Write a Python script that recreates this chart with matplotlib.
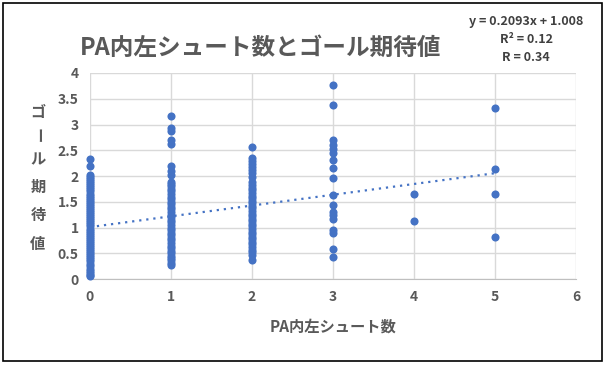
import matplotlib.pyplot as plt
from matplotlib.patches import Rectangle

plt.rcParams['font.family'] = ['Noto Sans CJK JP', 'DejaVu Sans']

# goal expectation per number of left-in-box shots
shots_0 = [0.05, 0.08, 0.12, 0.16, 0.2, 0.25, 0.3, 0.34, 0.38, 0.42, 0.46, 0.5, 0.54,
           0.58, 0.62, 0.66, 0.7, 0.74, 0.78, 0.82, 0.86, 0.9, 0.94, 0.98, 1.02, 1.06,
           1.1, 1.14, 1.18, 1.22, 1.26, 1.3, 1.34, 1.38, 1.42, 1.46, 1.5, 1.54, 1.58,
           1.62, 1.66, 1.7, 1.74, 1.78, 1.82, 1.86, 1.9, 1.94, 1.98, 2.02, 2.19, 2.33]
shots_1 = [0.27, 0.31, 0.36, 0.4, 0.45, 0.5, 0.55, 0.6, 0.65, 0.7, 0.75, 0.8, 0.85,
           0.9, 0.95, 1.0, 1.05, 1.1, 1.15, 1.2, 1.25, 1.3, 1.35, 1.4, 1.45, 1.5, 1.55,
           1.6, 1.65, 1.7, 1.75, 1.8, 1.85, 1.89, 2.02, 2.1, 2.19, 2.63, 2.7, 2.87,
           2.93, 3.17]
shots_2 = [0.36, 0.47, 0.52, 0.57, 0.62, 0.67, 0.72, 0.77, 0.82, 0.87, 0.92, 0.97,
           1.02, 1.07, 1.12, 1.17, 1.22, 1.27, 1.32, 1.37, 1.42, 1.47, 1.52, 1.57,
           1.62, 1.67, 1.72, 1.77, 1.82, 1.89, 1.99, 2.05, 2.11, 2.17, 2.23, 2.29,
           2.34, 2.57]
shots_3 = [0.43, 0.58, 0.89, 0.96, 1.16, 1.24, 1.31, 1.44, 1.64, 1.97, 2.16, 2.31,
           2.45, 2.52, 2.6, 2.7, 3.37, 3.77]
shots_4 = [1.13, 1.66]
shots_5 = [0.82, 1.66, 2.14, 3.33]

slope = 0.2093
intercept = 1.008
r2 = 0.12
r = 0.34

groups = [shots_0, shots_1, shots_2, shots_3, shots_4, shots_5]
xs = []
ys = []
for i, g in enumerate(groups):
    xs += [i] * len(g)
    ys += g

gray = '#595959'
fig = plt.figure(figsize=(6.07, 3.65), dpi=100)
ax = fig.add_axes([0.148, 0.2356, 0.801, 0.5644])

ax.scatter(xs, ys, s=34, color='#4472C4', zorder=3, linewidths=0, clip_on=False)
ax.plot([0, 5], [intercept, intercept + slope * 5], linestyle=(0, (1, 2.2)),
        color='#4472C4', linewidth=1.6, zorder=2)

ax.set_xlim(0, 6)
ax.set_ylim(0, 4)
ax.set_xticks(range(0, 7))
ax.set_yticks([0, 0.5, 1, 1.5, 2, 2.5, 3, 3.5, 4])
ax.set_yticklabels(['0', '0.5', '1', '1.5', '2', '2.5', '3', '3.5', '4'])
ax.grid(True, color='#D9D9D9', linewidth=1)
ax.set_axisbelow(True)
for side in ['top', 'right', 'left']:
    ax.spines[side].set_visible(False)
ax.spines['bottom'].set_color('#BFBFBF')
ax.tick_params(length=0, labelsize=10, labelcolor=gray, pad=8)
for lbl in ax.get_xticklabels() + ax.get_yticklabels():
    lbl.set_fontweight('bold')

fig.text(0.43, 0.87, 'PA内左シュート数とゴール期待値', fontsize=17, fontweight='bold',
         color=gray, ha='center', va='center')
fig.text(0.549, 0.105, 'PA内左シュート数', fontsize=11, fontweight='bold',
         color=gray, ha='center', va='center')

ylab = 'ゴール期待値'
ypos = [112, 136, 159, 187, 215, 244]
for ch, yp in zip(ylab, ypos):
    fig.text(38 / 607, 1 - yp / 365, ch, fontsize=11, fontweight='bold', color=gray,
             ha='center', va='center', rotation=-90 if ch == 'ー' else 0)

eq = 'y = %.4fx + %.3f\nR² = %.2f\nR = %.2f' % (slope, intercept, r2, r)
fig.text(0.867, 0.893, eq, fontsize=9, fontweight='bold', color='#404040',
         ha='center', va='center', linespacing=1.5)

fig.patches.append(Rectangle((3 / 607, 4 / 365), 599 / 607, 358 / 365,
                             transform=fig.transFigure, fill=False,
                             edgecolor='black', linewidth=1.2))

fig.savefig('out.png', dpi=100)
